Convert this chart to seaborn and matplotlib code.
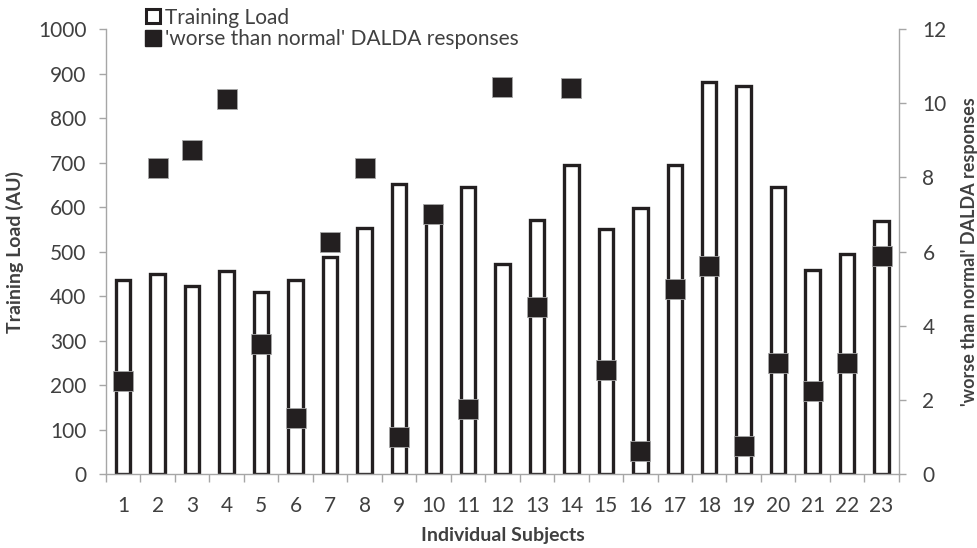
import numpy as np
import pandas as pd
import matplotlib
matplotlib.use("Agg")
import matplotlib.pyplot as plt
import seaborn as sns
from matplotlib.lines import Line2D
from matplotlib.ticker import FixedLocator, NullFormatter

# Dati
subjects = [str(i) for i in range(1, 24)]
training_load = [436, 450, 423, 457, 409, 435, 488, 554, 651, 585, 645, 472,
                 571, 695, 551, 598, 695, 882, 872, 646, 458, 495, 569]
dalda = [2.5, 8.25, 8.75, 10.1, 3.5, 1.5, 6.25, 8.25, 1.0, 7.0, 1.75, 10.45,
         4.5, 10.4, 2.8, 0.63, 5.0, 5.6, 0.75, 3.0, 2.25, 3.0, 5.87]

df = pd.DataFrame({"subject": subjects, "load": training_load, "dalda": dalda})
df["pos"] = np.arange(len(df))

sns.set_theme(style="white")
plt.rcParams["font.family"] = ["Lato", "DejaVu Sans"]

dark = "#231f20"
grey = "#a6a6a6"
txt = "#404040"

fig = plt.figure(figsize=(9.77, 5.48), dpi=100)
ax = fig.add_axes([0.1085, 0.135, 0.8115, 0.812])

sns.barplot(data=df, x="subject", y="load", color="white", edgecolor=dark,
            linewidth=2.4, width=0.42, ax=ax, zorder=2)
ax.set_ylim(0, 1000)
ax.set_xlim(-0.5, len(df) - 0.5)
ax.set_yticks(np.arange(0, 1001, 100))

ax2 = ax.twinx()
sns.scatterplot(data=df, x="pos", y="dalda", marker="s", s=200, color=dark,
                edgecolor=grey, linewidth=0.6, ax=ax2, zorder=3)
ax2.set_ylim(0, 12)
ax2.set_yticks(np.arange(0, 13, 2))
ax2.set_xlim(-0.5, len(df) - 0.5)

for a in (ax, ax2):
    a.spines["top"].set_visible(False)
    for side in ("left", "right", "bottom"):
        a.spines[side].set_color(grey)
        a.spines[side].set_linewidth(1.0)
    a.tick_params(colors=txt, labelsize=15, length=5, color=grey, width=1.0)

ax.spines["right"].set_visible(False)
ax2.spines["left"].set_visible(False)
ax2.spines["bottom"].set_visible(False)

# tick sull'asse x ai confini delle categorie (stile Excel)
ax.tick_params(axis="x", length=0, pad=16)
ax.xaxis.set_minor_locator(FixedLocator(np.arange(-0.5, len(df), 1)))
ax.xaxis.set_minor_formatter(NullFormatter())
ax.tick_params(axis="x", which="minor", length=6, color=grey, width=1.0, bottom=True)
ax.tick_params(axis="y", left=True, pad=9)
ax2.tick_params(axis="y", right=True, pad=12)

ax.set_xlabel("Individual Subjects", fontsize=14, fontweight="bold", color=txt, labelpad=8)
ax.set_ylabel("Training Load (AU)", fontsize=14, fontweight="bold", color=txt, labelpad=10)
ax2.set_ylabel("'worse than normal' DALDA responses", fontsize=13, fontweight="bold",
               color=txt, labelpad=10)

handles = [
    Line2D([], [], marker="s", linestyle="none", markersize=10, markerfacecolor="white",
           markeredgecolor=dark, markeredgewidth=2.2),
    Line2D([], [], marker="s", linestyle="none", markersize=11, markerfacecolor=dark,
           markeredgecolor=dark),
]
fig.legend(handles, ["Training Load", "'worse than normal' DALDA responses"],
           loc="upper left", bbox_to_anchor=(0.127, 1.02), frameon=False,
           fontsize=15, handletextpad=0.05, labelspacing=0.05, handlelength=1.0,
           labelcolor=txt)

fig.savefig("out.png", dpi=100)
